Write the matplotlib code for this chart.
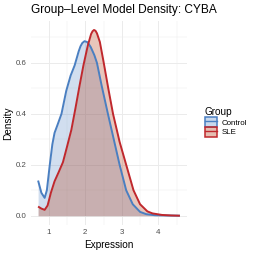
import matplotlib
matplotlib.use("Agg")
import matplotlib.pyplot as plt
from matplotlib.patches import Patch
from matplotlib.lines import Line2D

plt.rcParams['font.family'] = ['Liberation Sans', 'DejaVu Sans']

title = "Group\u2013Level Model Density: CYBA"
groups = ["Control", "SLE"]

control_x = [0.71, 0.80, 0.89, 0.95, 1.03, 1.10, 1.16, 1.25, 1.35, 1.48, 1.60, 1.71, 1.82,
             1.87, 1.92, 1.98, 2.05, 2.10, 2.15, 2.25, 2.32, 2.45, 2.62, 2.78, 2.94, 3.12,
             3.30, 3.50, 3.67, 3.90, 4.20, 4.59]
control_y = [0.138, 0.090, 0.070, 0.100, 0.200, 0.280, 0.325, 0.360, 0.400, 0.490, 0.550,
             0.590, 0.645, 0.665, 0.678, 0.685, 0.682, 0.673, 0.662, 0.630, 0.600, 0.510,
             0.400, 0.300, 0.200, 0.100, 0.045, 0.015, 0.006, 0.002, 0.001, 0.000]

sle_x = [0.71, 0.80, 0.89, 0.97, 1.06, 1.16, 1.27, 1.39, 1.50, 1.62, 1.73, 1.84, 1.95,
         2.07, 2.16, 2.20, 2.24, 2.28, 2.32, 2.40, 2.50, 2.63, 2.76, 2.94, 3.12, 3.32,
         3.50, 3.70, 3.84, 4.10, 4.35, 4.59]
sle_y = [0.036, 0.028, 0.023, 0.040, 0.090, 0.135, 0.170, 0.210, 0.270, 0.337, 0.420,
         0.507, 0.590, 0.668, 0.713, 0.724, 0.729, 0.726, 0.716, 0.682, 0.605, 0.500,
         0.400, 0.290, 0.200, 0.100, 0.045, 0.017, 0.009, 0.003, 0.001, 0.000]

x_ticks = [1, 2, 3, 4]
y_ticks = [0.0, 0.2, 0.4, 0.6]

line_colors = {"Control": "#4A7FC1", "SLE": "#C0282D"}
fill_colors = {"Control": "#4A7FC1", "SLE": "#B64420"}
fill_alpha = {"Control": 0.25, "SLE": 0.30}

fig = plt.figure(figsize=(2.54, 2.54), dpi=100)
ax = fig.add_axes([31/254, 29/254, 156/254, 204.3/254])

data = {"Control": (control_x, control_y), "SLE": (sle_x, sle_y)}
for g in groups:
    xs, ys = data[g]
    ax.fill_between(xs, 0, ys, color=fill_colors[g], alpha=fill_alpha[g], lw=0, zorder=2)
    ax.plot(xs, ys, color=line_colors[g], lw=1.4, zorder=3, solid_capstyle='butt',
            solid_joinstyle='round')

xmin, xmax = min(control_x), max(control_x)
xr = xmax - xmin
ax.set_xlim(xmin - 0.05 * xr, xmax + 0.05 * xr)
ymax = max(max(control_y), max(sle_y))
ax.set_ylim(-0.05 * ymax, ymax * 1.05)

ax.set_xticks(x_ticks)
ax.set_xticklabels([str(t) for t in x_ticks])
ax.set_yticks(y_ticks)
ax.set_yticklabels([f"{t:.1f}" for t in y_ticks])
ax.set_xticks([1.5, 2.5, 3.5, 4.5], minor=True)
ax.set_yticks([0.1, 0.3, 0.5, 0.7], minor=True)
ax.tick_params(which='both', length=0)
ax.tick_params(axis='x', pad=3.0, labelsize=5.7, labelcolor='#4D4D4D')
ax.tick_params(axis='y', pad=3.0, labelsize=5.7, labelcolor='#4D4D4D')
ax.grid(which='major', color='#EBEBEB', lw=0.7, zorder=0)
ax.grid(which='minor', color='#EBEBEB', lw=0.35, zorder=0)
ax.set_axisbelow(True)
for s in ax.spines.values():
    s.set_visible(False)

ax.set_xlabel("Expression", fontsize=7.2, labelpad=2.5)
ax.set_ylabel("Density", fontsize=7.2, labelpad=2)
fig.text(31/254, 1 - 10/254, title, fontsize=8.6, ha='left', va='center')

handles = [(Patch(facecolor=fill_colors[g], alpha=fill_alpha[g] + 0.05, edgecolor='none'),
            Patch(facecolor='none', edgecolor=line_colors[g], lw=1.1),
            Line2D([], [], color=line_colors[g], lw=1.0)) for g in groups]
leg = ax.legend(handles, groups, title="Group", loc='upper left',
                bbox_to_anchor=(201/254, 1 - 103/254), bbox_transform=fig.transFigure,
                frameon=False, fontsize=5.7, title_fontsize=7.2, borderpad=0,
                handlelength=1.5, handleheight=1.45, labelspacing=0.05, handletextpad=0.6,
                alignment='left')

fig.savefig("out.png", dpi=100)
